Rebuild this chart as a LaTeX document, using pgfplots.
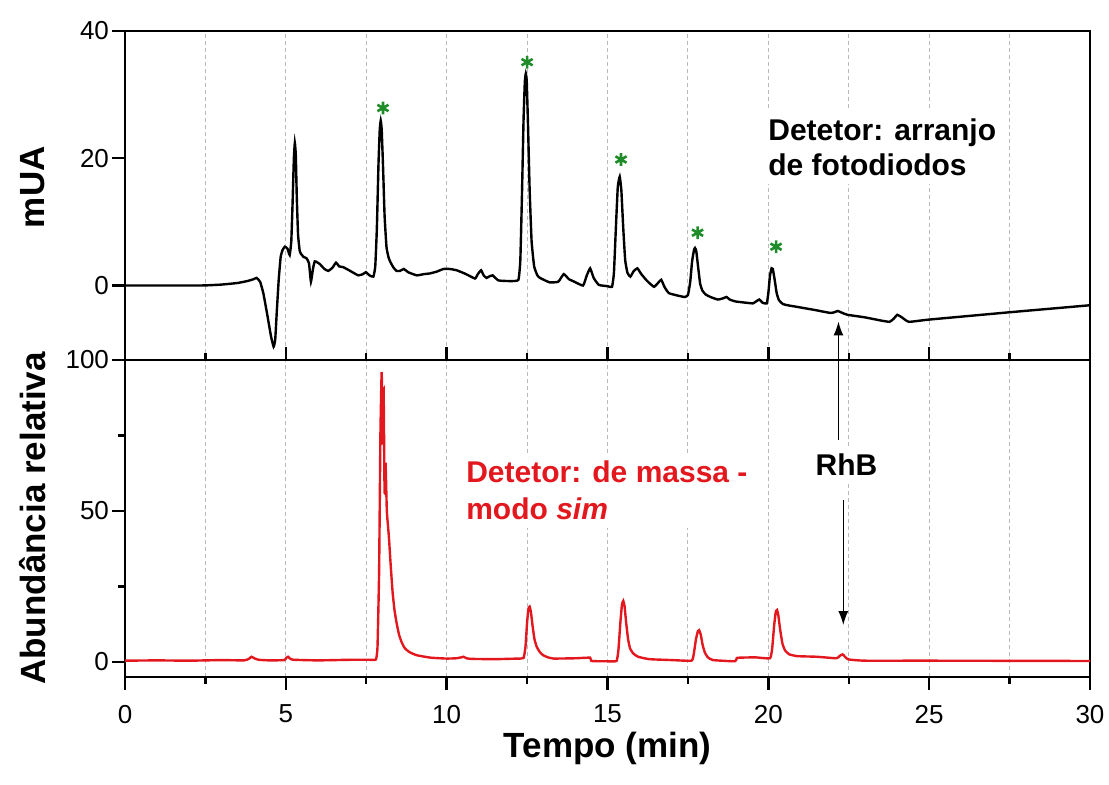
\documentclass[border=0pt]{standalone}
\usepackage{pgfplots}
\pgfplotsset{compat=1.18}
\usepackage{fontspec}
\setmainfont{Liberation Sans}
\usetikzlibrary{arrows.meta}
\definecolor{myred}{RGB}{226,24,30}
\definecolor{mygreen}{RGB}{30,140,40}
\pgfplotsset{
  common/.style={
    width=482.5pt, scale only axis, xmin=0, xmax=30,
    xtick={0,5,...,30}, minor xtick={2.5,7.5,...,27.5},
    xtick pos=bottom, ytick pos=left,
    axis line style={line width=1.2pt},
    tick style={black, line width=1.2pt},
    major tick length=6.5pt, minor tick length=3.5pt,
    xmajorgrids, xminorgrids,
    major grid style={gray!55, dash pattern=on 2pt off 1.5pt, line width=0.5pt},
    minor grid style={gray!55, dash pattern=on 2pt off 1.5pt, line width=0.5pt},
    tick label style={font=\fontsize{13}{15}\selectfont},
    label style={font=\bfseries\fontsize{17.5}{20}\selectfont},
    /pgf/number format/assume math mode=true,
  }
}
\begin{document}
\begin{tikzpicture}
\path[use as bounding box] (0,0) rectangle (554.5pt,392.5pt);
% ---------- bottom panel ----------
\begin{axis}[common,
  at={(62.5pt,54pt)}, anchor=south west, height=158.5pt,
  ymin=-5, ymax=100, ytick={0,50,100}, minor ytick={25,75},
  tick align=outside,
  xticklabel style={yshift=-4pt},
  yticklabel style={xshift=2pt},
  xlabel={Tempo (min)}, ylabel={Abundância relativa},
  xlabel style={at={(axis description cs:0.5,-0.225)}, anchor=center},
  ylabel style={at={(axis description cs:-0.0953,0.5)}, anchor=center},
]
\addplot[myred, line width=1.2pt, smooth, tension=0.25] coordinates {
(0,0.4) (1,0.5) (2,0.4) (3,0.6) (3.7,0.5) (3.85,1.0) (3.93,1.7) (4.02,1.2) (4.15,0.7) (4.5,0.5) (4.95,0.6) (5.02,1.4) (5.07,1.7) (5.14,1.0) (5.25,0.7) (6,0.5) (7,0.7) (7.6,0.7) (7.8,0.8) (7.85,5) (7.9,30) (7.94,75) (7.98,96) (8.01,72) (8.04,90) (8.07,56) (8.1,66) (8.14,50) (8.2,42) (8.26,32) (8.32,23) (8.38,17) (8.45,12.5) (8.52,9) (8.6,6.5) (8.7,4.5) (8.85,3.2) (9.07,2.2) (9.5,1.4) (10,1.1) (10.3,1.2) (10.45,1.5) (10.52,1.7) (10.62,1.2) (10.75,1.0) (11.5,0.9) (12.2,1.1) (12.39,1.3) (12.45,5) (12.5,13) (12.54,17.5) (12.58,18.3) (12.62,16.5) (12.67,12) (12.73,7.5) (12.8,5) (12.9,3.2) (13.0,2.2) (13.15,1.5) (13.33,1.1) (14,1.2) (14.46,1.4) (14.5,0.3) (15,0.2) (15.28,0.3) (15.34,4) (15.4,13) (15.45,19) (15.49,20.2) (15.53,18.5) (15.58,13) (15.64,7.5) (15.7,4.5) (15.8,2.8) (15.95,1.7) (16.3,0.9) (17,0.6) (17.61,0.4) (17.68,2.5) (17.75,7.5) (17.81,10.2) (17.85,10.5) (17.9,9) (17.96,5.5) (18.03,3) (18.12,1.5) (18.28,0.6) (18.96,0.2) (19.02,1.3) (19.1,1.4) (19.6,1.5) (20.05,1.2) (20.12,4.5) (20.18,12) (20.23,16.5) (20.27,17.2) (20.31,15.5) (20.37,10.5) (20.44,6) (20.52,3.8) (20.65,2.5) (20.9,1.9) (21.5,1.7) (22.12,1.2) (22.22,2.0) (22.31,2.5) (22.4,1.5) (22.5,0.8) (23,0.4) (25,0.4) (30,0.3)
};
\node[anchor=west, fill=white, inner sep=4pt, align=left, text=myred,
  font=\bfseries\fontsize{15}{18.5}\selectfont] at (axis cs:10.35,56.7)
  {Detetor: de massa -\\modo \textit{sim}};
\node[fill=white, inner sep=4pt, font=\bfseries\fontsize{15}{18}\selectfont]
  at (axis cs:22.43,65.3) {RhB};
\coordinate (upstart) at (axis cs:22.18,73.6);
\coordinate (dnstart) at (axis cs:22.33,53.7);
\coordinate (dnend) at (axis cs:22.33,12.2);
\end{axis}
% ---------- top panel ----------
\begin{axis}[common,
  at={(62.5pt,212.5pt)}, anchor=south west, height=164.5pt,
  ymin=-11.7, ymax=40, ytick={0,20,40},
  tick align=inside, xticklabels={},
  ytick style={xshift=-6.5pt},
  yticklabel style={xshift=-4.5pt},
  ylabel={mUA},
  ylabel style={at={(axis description cs:-0.0953,0.525)}, anchor=center},
]
\addplot[black, line width=1.2pt, smooth, tension=0.25] coordinates {
(0,0) (1,0) (2,0) (2.5,0.02) (3,0.15) (3.5,0.4) (3.8,0.7) (4.0,1.0) (4.09,1.2) (4.2,0.6) (4.3,-1.2) (4.42,-4.5) (4.54,-8) (4.62,-9.6) (4.67,-8.5) (4.72,-4) (4.78,1) (4.84,4.5) (4.9,5.6) (4.97,6.1) (5.05,5.8) (5.12,4.8) (5.17,7) (5.21,13) (5.25,20) (5.28,22.4) (5.31,20.5) (5.34,14) (5.38,8) (5.43,5.5) (5.47,5.0) (5.55,4.5) (5.64,4.3) (5.72,3.5) (5.78,0.6) (5.84,2.5) (5.90,3.8) (6.05,3.4) (6.2,2.6) (6.32,2.3) (6.45,2.8) (6.56,3.6) (6.66,3.0) (6.78,2.9) (7.0,2.3) (7.25,1.6) (7.4,1.8) (7.49,2.1) (7.6,1.6) (7.72,1.4) (7.78,3) (7.83,9) (7.88,19) (7.92,24.5) (7.95,25.9) (7.98,24.5) (8.02,19) (8.07,11) (8.13,6) (8.2,4.3) (8.26,3.6) (8.35,2.8) (8.44,2.3) (8.55,2.3) (8.67,2.6) (8.8,2.1) (9.07,1.6) (9.3,1.8) (9.48,1.9) (9.7,2.2) (9.9,2.6) (10.1,2.6) (10.31,2.4) (10.6,1.8) (10.88,1.1) (10.97,1.8) (11.07,2.4) (11.15,1.6) (11.24,1.2) (11.35,1.5) (11.43,1.6) (11.61,0.8) (12.0,0.7) (12.23,0.9) (12.29,4) (12.34,14) (12.39,26) (12.43,32) (12.46,33.3) (12.49,32) (12.53,25) (12.58,15) (12.64,7) (12.72,3) (12.82,1.6) (12.9,1.2) (13.2,0.5) (13.47,0.6) (13.64,1.8) (13.8,1.0) (13.97,0.6) (14.24,0.0) (14.35,1.5) (14.46,2.7) (14.57,1.2) (14.73,0.1) (15.0,-0.1) (15.14,-0.2) (15.2,2) (15.26,9) (15.32,15.5) (15.38,17.1) (15.43,15) (15.49,9) (15.55,4) (15.62,2) (15.71,1.4) (15.82,2.3) (15.93,2.7) (16.05,1.8) (16.2,0.9) (16.32,0.3) (16.45,-0.2) (16.57,0.4) (16.67,0.9) (16.78,-0.3) (16.91,-1.2) (17.2,-1.6) (17.4,-1.8) (17.5,-1.5) (17.57,0.5) (17.63,3.8) (17.69,5.6) (17.72,5.9) (17.76,5.4) (17.82,2.8) (17.88,0.3) (17.95,-0.8) (18.05,-1.4) (18.2,-1.8) (18.43,-2.2) (18.6,-2.0) (18.70,-1.8) (18.8,-2.2) (18.98,-2.5) (19.3,-2.7) (19.52,-2.8) (19.62,-2.5) (19.72,-2.2) (19.82,-2.7) (19.95,-2.8) (20.0,-1.2) (20.05,1.5) (20.1,2.7) (20.14,2.6) (20.2,0.8) (20.26,-1.2) (20.33,-2.3) (20.45,-2.9) (20.6,-3.1) (20.83,-3.3) (21.4,-3.8) (21.92,-4.3) (22.05,-4.2) (22.16,-4.0) (22.3,-4.3) (22.46,-4.6) (23.0,-5.0) (23.5,-5.5) (23.77,-5.7) (23.9,-5.2) (24.01,-4.6) (24.15,-5.0) (24.37,-5.7) (25,-5.35) (27.5,-4.2) (30,-3.1)
};
\addplot[only marks, mark=asterisk, mark size=3.2pt, mygreen,
  mark options={line width=1.3pt}] coordinates {
(8.02,27.9) (12.5,35.1) (15.42,19.8) (17.8,8.3) (20.24,6.1)
};
\node[anchor=west, fill=white, inner sep=4pt, align=left,
  font=\bfseries\fontsize{15}{17.5}\selectfont] at (axis cs:19.74,21.7)
  {Detetor: arranjo\\de fotodiodos};
\coordinate (upend) at (axis cs:22.18,-5.65);
\end{axis}
\draw[line width=0.7pt, -{Latex[length=7pt,width=5pt]}] (upstart) -- (upend);
\draw[line width=0.7pt, -{Latex[length=7pt,width=5pt]}] (dnstart) -- (dnend);
\end{tikzpicture}
\end{document}
